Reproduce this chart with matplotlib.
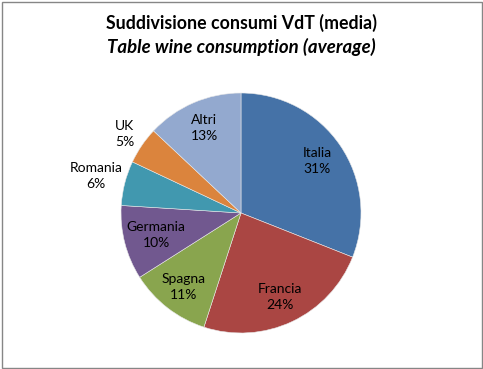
import numpy as np
import matplotlib
matplotlib.use("Agg")
import matplotlib.pyplot as plt
from matplotlib.patches import Rectangle

categories = ["Italia", "Francia", "Spagna", "Germania", "Romania", "UK", "Altri"]
values = [31, 24, 11, 10, 6, 5, 13]
colors = ["#4572A7", "#AA4643", "#89A54E", "#71588F", "#4198AF", "#DB843D", "#93A9CF"]
label_dist = [0.77, 0.77, 0.78, 0.73, 1.25, 1.17, 0.77]

W, H = 483, 369
fig = plt.figure(figsize=(W / 100, H / 100), dpi=100)
fig.patch.set_facecolor("white")

cx, cy, r = 241, 213, 120
ax = fig.add_axes([(cx - r) / W, (H - cy - r) / H, 2 * r / W, 2 * r / H])
wedges, _ = ax.pie(values, colors=colors, startangle=90, counterclock=False,
                   radius=1.0, wedgeprops=dict(edgecolor="#e8e8e8", linewidth=0.4))
ax.set_xlim(-1, 1)
ax.set_ylim(-1, 1)
ax.set_aspect("equal")
ax.axis("off")

total = sum(values)
for w, name, v, d in zip(wedges, categories, values, label_dist):
    th = np.deg2rad((w.theta1 + w.theta2) / 2)
    ax.text(d * np.cos(th), d * np.sin(th), f"{name}\n{round(100 * v / total)}%",
            ha="center", va="center", fontsize=10, family="Lato",
            color="black", linespacing=1.4, clip_on=False)

fig.text(cx / W, 1 - 23 / H, "Suddivisione consumi VdT (media)", ha="center", va="center",
         fontsize=12.8, fontweight="bold", family="Lato", color="black")
fig.text(cx / W, 1 - 47 / H, "Table wine consumption (average)", ha="center", va="center",
         fontsize=13.4, fontweight="bold", fontstyle="italic", family="Lato", color="black")

fig.patches.append(Rectangle((1.5 / W, 1.5 / H), (W - 3) / W, (H - 3) / H,
                             transform=fig.transFigure, fill=False,
                             edgecolor="#868686", linewidth=1.0))

fig.savefig("out.png", dpi=100)
